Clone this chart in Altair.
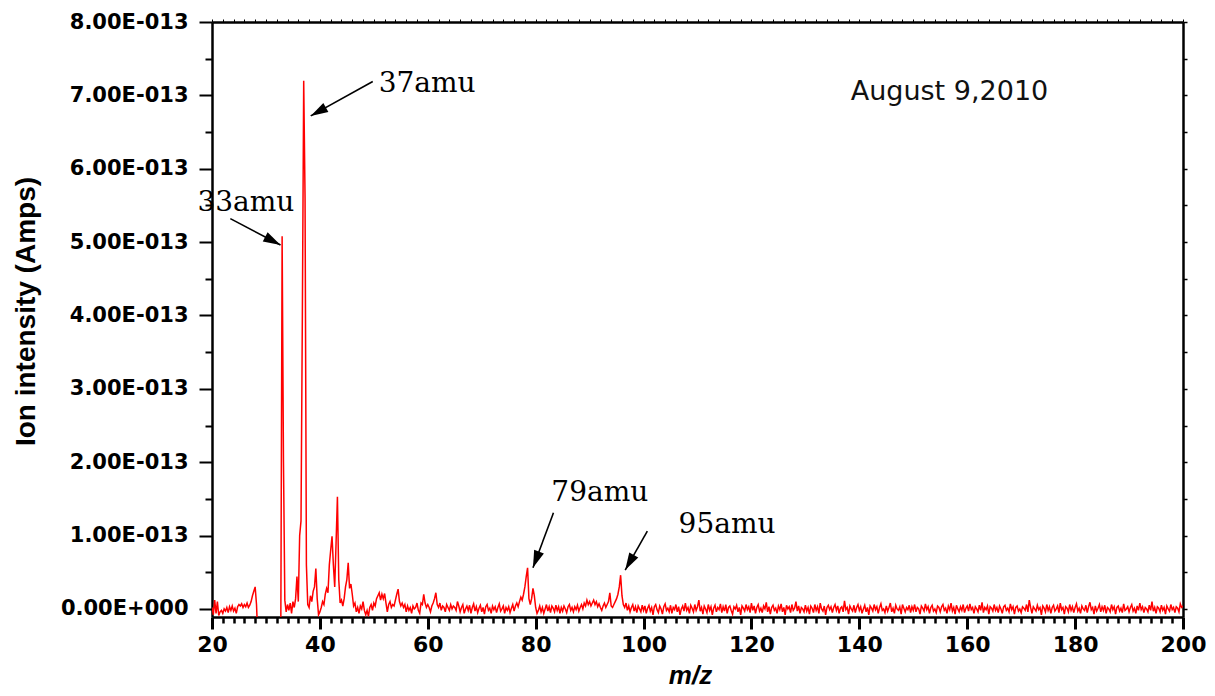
import math
import altair as alt
import pandas as pd

# ---------------- data ----------------
MZ_START = 20.0
MZ_STEP = 0.25
# ion intensity in units of 1E-15 A, sampled every 0.25 amu from m/z 20 to 200
intensity_fA = [
    # 20.00 - 24.75
    2, -8, 12, -6, 10, -9, -4, -2, -6, 0, -3, 2, -5, 3, -2, 4, -3, 1, -6, 3,
    # 25.00 - 29.75
    6, 4, 7, 2, 6, 3, 8, 2, 5, 10, 18, 24, 30, 6, -40, -40, -40, -40, -40, -40,
    # 30.00 - 34.75
    -40, -40, -40, -40, -40, -40, -40, -40, -40, -40, -40, -40, 508, 200, 12, -4, 6, -2, 8, -6,
    # 35.00 - 39.75
    10, 2, 14, 44, 10, 100, 120, 400, 720, 560, 60, 6, 2, 18, 10, 24, 30, 55, 14, -8,
    # 40.00 - 44.75
    -4, 2, 10, 6, 20, 28, 22, 60, 80, 99, 60, 30, 90, 153, 40, 8, 12, 4, 14, 30,
    # 45.00 - 49.75
    40, 63, 28, 34, 20, 4, 8, -4, 2, -6, 4, 0, 10, -2, -8, -2, -10, 2, 6, -2,
    # 50.00 - 54.75
    8, 4, 14, 18, 22, 12, 20, 14, 21, 8, -4, 6, 10, 2, 6, 4, 12, 20, 27, 10,
    # 55.00 - 59.75
    4, 8, 2, 6, -4, 4, -2, 2, -6, 4, 0, 2, 8, -2, -6, 8, 6, 20, 8, 2,
    # 60.00 - 64.75
    6, 2, -4, 4, 8, 14, 22, 6, 2, 8, -2, 4, 2, -4, 6, 2, -2, 6, 0, 4,
    # 65.00 - 69.75
    2, -2, 10, 4, -4, 2, 6, -6, 0, 4, -2, 5, -6, 2, 7, -3, 3, -5, 1, 5,
    # 70.00 - 74.75
    -4, 2, -7, 3, 6, -2, 1, -6, 4, -1, 3, -5, 2, 7, -3, 0, 4, -6, 2, -2,
    # 75.00 - 79.75
    3, -5, 1, 6, -3, 4, 8, 3, 10, 16, 12, 20, 30, 44, 56, 14, 6, 14, 28, 18,
    # 80.00 - 84.75
    2, -6, -2, 4, -4, 2, -6, 0, 6, -3, 3, -5, 4, 1, -4, 5, -2, 3, -6, 2,
    # 85.00 - 89.75
    -3, 4, 0, -5, 3, 6, -2, 2, -4, 3, -1, 5, -3, 2, 6, 0, 8, 4, 12, 6,
    # 90.00 - 94.75
    10, 4, 8, 12, 6, 10, 3, 7, 2, -2, 4, 8, 2, 6, 10, 22, 4, 2, 6, 10,
    # 95.00 - 99.75
    14, 20, 30, 46, 18, 6, 2, 8, -2, 4, -4, 2, 6, -3, 3, -5, 4, 0, -4, 5,
    # 100.00 - 104.75
    -2, 4, -6, 1, 5, -3, 2, -8, 3, 6, -1, -5, 4, 0, -7, 3, 7, -2, 1, -4,
    # 105.00 - 109.75
    5, -6, 2, -1, 6, -4, 3, -8, 0, 4, -3, 8, -2, 2, -6, 5, 1, -4, 6, -2,
    # 110.00 - 114.75
    3, 12, -3, 2, -7, 4, 0, -5, 6, -2, 3, -8, 1, 5, -4, 2, -1, 7, -5, 3,
    # 115.00 - 119.75
    -3, 6, -6, 2, 4, -2, -7, 3, 0, 5, -4, 2, -8, 4, 1, -3, 6, -1, 3, -5,
    # 120.00 - 124.75
    8, -2, 4, -6, 2, 6, -3, 1, -5, 4, 0, 9, -4, 3, -7, 2, 5, -2, 1, -6,
    # 125.00 - 129.75
    4, -1, 7, -4, 2, -8, 5, 0, 3, -5, 6, -2, 1, 10, -3, 4, -6, 2, 0, -4,
    # 130.00 - 134.75
    5, -3, 2, -7, 4, 1, -5, 6, -2, 3, -6, 8, 0, -3, 4, -8, 2, 5, -1, 3,
    # 135.00 - 139.75
    -5, 2, 6, -2, 4, -6, 1, 3, -4, 11, -1, 2, -7, 4, 0, -3, 5, -5, 2, 6,
    # 140.00 - 144.75
    -2, 3, -6, 0, 5, -4, 2, -8, 4, 1, -3, 6, -1, 3, -6, 2, 7, -2, 0, -5,
    # 145.00 - 149.75
    4, -3, 2, 8, -4, 1, -6, 5, 0, -2, 3, -7, 6, 1, -4, 2, -1, 5, -5, 3,
    # 150.00 - 154.75
    -2, 6, -4, 2, 0, -7, 4, 1, -3, 7, -1, 3, -6, 2, 5, -3, 0, -5, 4, 2,
    # 155.00 - 159.75
    -4, 3, 6, -2, 1, -6, 4, -1, 8, -3, 2, -7, 5, 0, -4, 3, -2, 6, -5, 1,
    # 160.00 - 164.75
    4, -3, 7, -1, 2, -6, 3, 0, -4, 5, -2, 9, -5, 2, -1, 4, -7, 3, 1, -3,
    # 165.00 - 169.75
    6, -2, 2, -5, 4, 0, -6, 3, 5, -2, 1, -4, 7, -1, 3, -7, 2, 4, -3, 0,
    # 170.00 - 174.75
    -5, 3, 1, -2, 6, -4, 12, 2, -6, 3, 0, -3, 5, -1, 2, -8, 4, 1, -4, 6,
    # 175.00 - 179.75
    -2, 3, -6, 2, 5, -3, 0, 4, -5, 8, -1, 2, -7, 3, 1, -4, 6, -2, 3, -5,
    # 180.00 - 184.75
    2, 7, -3, 1, -6, 4, 0, -2, 5, -5, 3, 9, -1, 2, -7, 4, -3, 1, 6, -4,
    # 185.00 - 189.75
    3, -2, 5, -6, 2, 0, -4, 6, -1, 3, -7, 2, 4, -3, 1, -5, 7, -2, 0, 3,
    # 190.00 - 194.75
    -4, 2, 6, -3, 1, -6, 4, -2, 8, -1, 3, -5, 2, 0, -4, 5, -2, 10, -3, 2,
    # 195.00 - 199.75
    -6, 3, 1, -4, 5, -2, 2, -7, 4, 0, -3, 6, -1, 2, -5, 3, 1, -4, 7, 2,
    # 200.00
    4,
]

x_major = [20, 40, 60, 80, 100, 120, 140, 160, 180, 200]
x_minor = [v for v in range(22, 200, 2) if v % 20 != 0]
x_all = list(range(20, 201, 2))
y_major = [0, 1e-13, 2e-13, 3e-13, 4e-13, 5e-13, 6e-13, 7e-13, 8e-13]
y_minor = [0.5e-13, 1.5e-13, 2.5e-13, 3.5e-13, 4.5e-13, 5.5e-13, 6.5e-13, 7.5e-13]
y_all = sorted(y_major + y_minor)

ann_labels = ["37amu", "33amu", "79amu", "95amu"]
ann_text_x = [50.9, 17.3, 82.9, 106.5]
ann_text_y = [7.16e-13, 5.53e-13, 1.58e-13, 1.14e-13]
arrow_x0 = [49.8, 23.4, 83.3, 100.7]
arrow_y0 = [7.19e-13, 5.32e-13, 1.31e-13, 1.06e-13]
arrow_x1 = [38.3, 32.7, 79.5, 96.6]
arrow_y1 = [6.72e-13, 4.96e-13, 0.56e-13, 0.53e-13]

date_text = ["August 9,2010"]
date_x = [138.4]
date_y = [7.05e-13]

# ---------------- layout ----------------
W, H = 971, 595
X_DOMAIN = [20, 200]
Y_DOMAIN = [-1.1e-14, 8e-13]

spec = pd.DataFrame({
    "mz": [MZ_START + MZ_STEP * i for i in range(len(intensity_fA))],
    "amps": [v * 1e-15 for v in intensity_fA],
})

sx = W / (X_DOMAIN[1] - X_DOMAIN[0])
sy = H / (Y_DOMAIN[1] - Y_DOMAIN[0])
angles = []
for a, b, c, d in zip(arrow_x0, arrow_y0, arrow_x1, arrow_y1):
    dx = (c - a) * sx
    dy = -(d - b) * sy
    angles.append((math.degrees(math.atan2(dx, -dy)) + 360) % 360)

ann = pd.DataFrame({
    "label": ann_labels, "tx": ann_text_x, "ty": ann_text_y,
    "x0": arrow_x0, "y0": arrow_y0, "x1": arrow_x1, "y1": arrow_y1,
    "angle": angles,
})
date_df = pd.DataFrame({"label": date_text, "x": date_x, "y": date_y})

xs = alt.Scale(domain=X_DOMAIN, nice=False, zero=False)
ys = alt.Scale(domain=Y_DOMAIN, nice=False, zero=False)

label_expr = "datum.value == 0 ? '0.00E+000' : format(datum.value * 1e13, '.2f') + 'E-013'"

line = alt.Chart(spec).mark_line(color="#ff0000", strokeWidth=1.5, clip=True).encode(
    x=alt.X("mz:Q", scale=xs, axis=alt.Axis(
        orient="bottom", values=x_major, tickSize=12, tickWidth=3, tickColor="black",
        domainColor="black", domainWidth=2.5, grid=False,
        labelFont="DejaVu Sans", labelFontWeight="bold", labelFontSize=22,
        labelColor="black", labelPadding=5, labelFlush=False,
        title="m/z", titleFont="Liberation Sans", titleFontStyle="italic",
        titleFontWeight="bold", titleFontSize=26, titleColor="black",
        titleX=478, titleY=58, titleBaseline="middle", titleAlign="center")),
    y=alt.Y("amps:Q", scale=ys, axis=alt.Axis(
        orient="left", values=y_major, labelExpr=label_expr, tickSize=13, tickWidth=2,
        tickColor="black", domainColor="black", domainWidth=2.5, grid=False,
        labelFont="DejaVu Sans", labelFontWeight="bold", labelFontSize=21,
        labelColor="black", labelPadding=11, labelFlush=False,
        title="Ion intensity (Amps)", titleFont="Liberation Sans", titleFontWeight="bold",
        titleFontSize=28, titleColor="black", titleAngle=270,
        titleX=-186, titleY=289, titleAlign="center", titleBaseline="middle")),
)

minor = alt.Chart(spec).mark_line(opacity=0).encode(
    x=alt.X("mz:Q", scale=xs, title="", axis=alt.Axis(
        orient="bottom", values=x_minor, labels=False, tickSize=6, tickWidth=2.5,
        tickColor="black", domain=False, grid=False)),
    y=alt.Y("amps:Q", scale=ys, title="", axis=alt.Axis(
        orient="left", values=y_minor, labels=False, tickSize=7, tickWidth=2,
        tickColor="black", domain=False, grid=False)),
)

frame = alt.Chart(spec).mark_line(opacity=0).encode(
    x=alt.X("mz:Q", scale=xs, title="", axis=alt.Axis(
        orient="top", values=x_all, labels=False, tickSize=3, tickWidth=1,
        tickColor="black", domainColor="black", domainWidth=2.5, grid=False)),
    y=alt.Y("amps:Q", scale=ys, title="", axis=alt.Axis(
        orient="right", values=y_all, labels=False, tickSize=4, tickWidth=1.5,
        tickColor="black", domainColor="black", domainWidth=2.5, grid=False)),
)

arrows = alt.Chart(ann).mark_rule(color="black", strokeWidth=1.6).encode(
    x=alt.X("x0:Q", scale=xs, axis=None), y=alt.Y("y0:Q", scale=ys, axis=None),
    x2="x1:Q", y2="y1:Q",
)

heads = alt.Chart(ann).mark_point(
    shape="M0,0L-0.6,2L0.6,2Z", filled=True, color="black", opacity=1, size=300,
).encode(
    x=alt.X("x1:Q", scale=xs, axis=None), y=alt.Y("y1:Q", scale=ys, axis=None),
    angle=alt.Angle("angle:Q", scale=None),
)

labels = alt.Chart(ann).mark_text(
    font="DejaVu Serif", fontSize=28, color="black", align="left", baseline="middle",
).encode(
    x=alt.X("tx:Q", scale=xs, axis=None), y=alt.Y("ty:Q", scale=ys, axis=None),
    text="label:N",
)

date = alt.Chart(date_df).mark_text(
    font="DejaVu Sans", fontSize=27, color="#111111", align="left", baseline="middle",
).encode(
    x=alt.X("x:Q", scale=xs, axis=None), y=alt.Y("y:Q", scale=ys, axis=None),
    text="label:N",
)

chart = alt.layer(line, minor, frame, arrows, heads, labels, date).resolve_axis(
    x="independent", y="independent"
).properties(
    width=W, height=H,
    padding={"left": 204, "top": 14, "right": 24, "bottom": 74},
    autosize=alt.AutoSizeParams(type="none"),
).configure_view(stroke="black", strokeWidth=2.5).configure(background="white")

chart.save("out.html", embed_options={"renderer": "svg", "actions": False})
